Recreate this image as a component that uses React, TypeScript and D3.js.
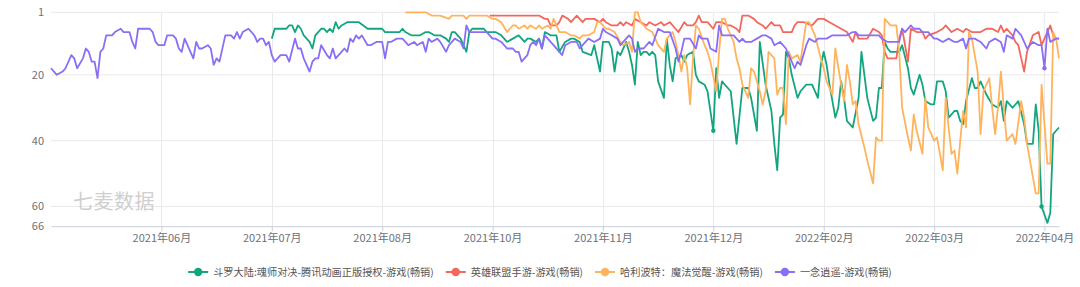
import React, { useEffect, useRef } from "react";
import * as d3 from "d3";

const WIDTH = 1080;
const HEIGHT = 287;

const tickIndex = [38, 76, 114, 152, 190, 228, 266, 304, 342];
const tickLabels = ["2021年06月", "2021年07月", "2021年08月", "2021年10月", "2021年11月", "2021年12月", "2022年02月", "2022年03月", "2022年04月"];
const yTicks = [1, 20, 40, 60, 66];
const lastIndex = 347;

const seriesNames = [
  "斗罗大陆:魂师对决-腾讯动画正版授权-游戏(畅销)",
  "英雄联盟手游-游戏(畅销)",
  "哈利波特：魔法觉醒-游戏(畅销)",
  "一念逍遥-游戏(畅销)",
];
const seriesColors = ["#12a57f", "#f2685c", "#ffb35c", "#8a6ef5"];

const douluo: [number, number][] = [
  [76,9],[77,6],[78,6],[81,6],[82,5],[83,5],[84,7],[85,5],[86,6],[87,8],[89,10],[90,12],[91,8],[93,6],[94,6],[95,7],[96,6],[97,7],[98,4],[99,6],[100,5],[102,4],[106,4],[109,6],[114,6],[115,7],[117,7],[120,7],[121,6],[122,7],[124,8],[127,8],[129,7],[130,7],[132,8],[134,8],[136,9],[137,10],[138,7],[139,7],[141,9],[142,11],[143,13],[144,7],[145,6],[149,6],[150,7],[152,7],[153,7],[155,8],[157,10],[159,9],[161,8],[163,10],[164,9],[165,9],[167,10],[168,9],[169,12],[170,7],[172,8],[174,8],[175,13],[177,10],[179,9],[180,9],[182,10],[183,13],[186,14],[187,11],[189,19],[190,10],[192,10],[193,12],[194,19],[195,13],[196,14],[198,10],[199,13],[200,17],[201,23],[202,10],[203,14],[204,13],[205,13],[206,14],[207,13],[208,14],[209,22],[211,27],[212,9],[213,17],[214,22],[215,15],[217,14],[218,16],[219,14],[221,13],[222,20],[223,22],[225,23],[226,25],[228,37],[229,18],[230,27],[231,22],[233,24],[234,25],[236,41],[238,24],[240,24],[241,27],[243,37],[244,10],[246,23],[248,31],[249,41],[250,49],[251,33],[252,32],[253,13],[254,15],[255,20],[257,27],[258,25],[260,23],[262,23],[264,27],[265,17],[266,13],[267,17],[268,23],[270,33],[271,30],[272,22],[273,27],[274,34],[276,36],[278,27],[279,13],[280,20],[281,27],[283,34],[284,33],[285,24],[286,24],[287,10],[288,12],[289,13],[292,13],[293,11],[295,18],[296,24],[297,26],[299,20],[300,23],[301,28],[303,29],[304,29],[305,22],[307,22],[308,25],[309,33],[311,31],[312,31],[313,34],[314,35],[315,28],[317,21],[318,24],[319,24],[320,22],[322,26],[324,29],[326,30],[327,28],[328,34],[329,28],[331,30],[333,28],[335,35],[336,41],[338,41],[339,29],[340,37],[341,60],[343,65],[344,62],[345,38],[346,37],[347,36],
];

const lol: [number, number][] = [
  [151,2],[153,2],[155,2],[157,2],[159,2],[168,2],[170,3],[171,3],[172,5],[174,5],[175,4],[176,2],[178,3],[179,4],[181,2],[183,4],[184,3],[186,3],[187,3],[189,4],[190,3],[191,4],[193,5],[195,5],[196,4],[197,5],[198,4],[200,5],[201,3],[203,4],[205,5],[206,4],[208,5],[210,4],[211,5],[213,4],[215,6],[216,7],[218,4],[219,5],[221,5],[222,4],[223,2],[224,4],[226,4],[228,6],[229,4],[231,4],[233,5],[234,5],[236,6],[237,7],[238,2],[240,2],[242,3],[243,4],[245,5],[246,6],[248,4],[249,5],[251,5],[252,7],[254,7],[255,7],[256,5],[257,4],[259,4],[262,5],[264,3],[266,3],[268,4],[270,5],[272,6],[274,7],[276,10],[277,7],[278,9],[281,9],[283,6],[285,7],[286,8],[287,13],[288,15],[291,15],[292,9],[293,6],[295,16],[296,6],[298,7],[300,7],[301,9],[302,8],[305,7],[307,6],[308,5],[310,7],[312,6],[314,7],[315,6],[317,7],[319,7],[320,7],[322,6],[324,6],[326,7],[327,5],[328,7],[329,6],[331,8],[332,10],[333,11],[334,15],[335,19],[336,13],[338,8],[340,7],[341,11],[343,7],[344,5],[345,8],[346,9],[347,9],
];

const harry: [number, number][] = [
  [122,1],[129,1],[131,2],[134,2],[137,3],[138,2],[139,2],[142,2],[143,3],[144,2],[149,2],[150,2],[152,3],[153,3],[155,4],[157,7],[158,6],[159,5],[160,5],[161,6],[163,5],[164,6],[165,5],[167,6],[168,5],[169,6],[171,5],[172,6],[173,3],[174,5],[175,7],[177,7],[179,8],[180,8],[182,9],[183,8],[185,8],[187,7],[188,4],[189,4],[191,6],[192,6],[194,7],[196,10],[197,11],[199,10],[200,13],[201,1],[202,1],[203,4],[205,6],[207,7],[208,9],[209,11],[211,13],[212,9],[214,7],[215,10],[216,14],[217,19],[218,14],[219,18],[220,29],[221,15],[222,5],[223,6],[225,11],[226,13],[227,16],[229,25],[230,13],[231,3],[232,3],[233,6],[235,10],[236,15],[237,18],[238,23],[240,27],[241,18],[242,19],[244,25],[245,29],[246,25],[247,13],[249,15],[250,26],[251,24],[252,24],[253,35],[254,13],[255,15],[257,14],[258,16],[260,4],[261,4],[263,8],[265,15],[266,18],[267,22],[269,26],[270,12],[272,23],[273,28],[274,17],[275,22],[276,29],[277,28],[278,35],[280,42],[281,46],[283,53],[284,39],[285,40],[286,40],[287,3],[288,4],[289,5],[291,5],[292,13],[293,30],[295,39],[296,43],[297,32],[298,37],[300,44],[301,27],[302,36],[304,40],[305,39],[307,49],[308,27],[309,36],[310,44],[311,43],[312,50],[313,40],[314,31],[315,36],[316,7],[317,9],[319,19],[320,38],[321,25],[323,21],[324,30],[325,38],[326,30],[327,19],[328,30],[329,40],[331,38],[332,41],[334,28],[335,33],[336,41],[337,46],[338,51],[339,56],[340,56],[341,23],[343,47],[344,47],[345,7],[346,9],[347,15],
];

const yinian: [number, number][] = [
  [0,18],[2,20],[4,19],[5,18],[7,14],[8,15],[9,18],[11,15],[12,12],[13,13],[14,16],[15,16],[16,21],[17,13],[18,12],[19,8],[21,8],[22,7],[24,6],[25,7],[27,7],[28,10],[29,12],[30,6],[31,6],[34,6],[35,7],[36,10],[37,11],[39,11],[40,8],[42,8],[43,9],[44,12],[45,13],[46,9],[48,13],[49,15],[50,10],[51,12],[52,12],[54,11],[55,12],[56,17],[57,15],[58,16],[60,8],[61,8],[62,8],[63,9],[64,7],[65,9],[66,7],[68,6],[70,8],[71,10],[72,9],[73,9],[74,11],[75,10],[76,14],[77,16],[79,14],[81,14],[82,16],[84,9],[85,12],[86,12],[87,15],[89,19],[90,16],[91,15],[92,15],[93,11],[95,14],[96,15],[97,12],[98,15],[100,13],[101,12],[102,13],[103,9],[104,10],[105,8],[106,9],[107,8],[109,11],[110,11],[112,10],[114,10],[115,15],[116,10],[117,10],[119,9],[121,9],[122,10],[123,11],[125,10],[126,11],[128,10],[129,13],[130,9],[131,10],[133,9],[134,10],[136,13],[137,11],[139,9],[141,10],[142,12],[143,5],[144,7],[146,7],[150,7],[152,9],[153,9],[155,10],[157,12],[159,12],[160,13],[161,13],[162,16],[164,14],[165,11],[166,10],[167,11],[168,9],[169,12],[170,8],[172,10],[173,11],[175,13],[176,14],[177,11],[179,10],[181,10],[182,12],[183,11],[185,9],[187,10],[189,9],[190,6],[191,7],[193,8],[195,9],[196,11],[198,9],[199,8],[200,9],[201,13],[202,12],[204,12],[206,10],[207,11],[209,6],[211,7],[213,7],[215,12],[216,16],[217,13],[218,9],[220,9],[222,12],[223,8],[224,9],[226,9],[227,12],[229,13],[230,5],[231,8],[233,8],[235,8],[237,10],[238,9],[239,10],[241,10],[243,9],[245,8],[246,8],[248,9],[249,11],[251,10],[253,12],[254,14],[255,16],[256,18],[257,16],[258,17],[260,11],[261,9],[263,10],[264,9],[265,9],[267,9],[269,8],[270,8],[272,8],[274,8],[276,7],[277,7],[278,8],[281,8],[283,8],[285,8],[286,9],[288,10],[290,10],[292,10],[293,6],[294,7],[296,5],[297,6],[299,6],[300,7],[302,7],[304,9],[305,9],[307,10],[309,9],[311,10],[312,10],[314,9],[315,12],[316,9],[318,9],[320,10],[322,12],[323,10],[325,9],[327,10],[328,13],[329,8],[331,9],[332,6],[334,8],[335,10],[336,12],[338,10],[340,11],[341,11],[342,18],[343,6],[344,10],[346,9],[347,9],
];

const seriesData = [douluo, lol, harry, yinian];
// highlighted points: [series index, category index]
const markedPoints: [number, number][] = [[0, 228], [0, 341], [3, 342]];

const FONT = "'Noto Sans CJK SC', 'Noto Sans', sans-serif";

export default function App() {
  const ref = useRef<SVGSVGElement>(null);

  useEffect(() => {
    const svg = d3.select(ref.current);
    svg.selectAll("*").remove();

    const left = 51, right = 1059, top = 12.3, bottom = 226.2;
    const x = d3.scaleLinear().domain([0, lastIndex]).range([left, right]);
    const y = d3.scaleLinear().domain([1, 66]).range([top, bottom]);

    // grid
    const grid = svg.append("g");
    grid.selectAll("line.h").data(yTicks.filter((t) => t !== 66)).join("line")
      .attr("x1", left).attr("x2", right)
      .attr("y1", (d) => y(d)).attr("y2", (d) => y(d))
      .attr("stroke", "#e9e9ee").attr("stroke-width", 1);
    grid.selectAll("line.v").data(tickIndex).join("line")
      .attr("x1", (d) => Math.round(x(d)) + 0.5).attr("x2", (d) => Math.round(x(d)) + 0.5)
      .attr("y1", top).attr("y2", bottom)
      .attr("stroke", "#e9e9ee").attr("stroke-width", 1);

    // y axis labels
    const yAxis = svg.append("g").attr("transform", `translate(${left},0)`)
      .call(d3.axisLeft(y).tickValues(yTicks).tickSize(0).tickPadding(7).tickFormat((d) => String(d)));
    yAxis.select(".domain").remove();
    yAxis.selectAll("text").attr("fill", "#6e7079").attr("font-size", 11).attr("font-family", FONT);

    // watermark
    svg.append("text").attr("x", 73).attr("y", 209).text("七麦数据")
      .attr("font-family", FONT).attr("font-size", 20).attr("fill", "#cfcfcf").attr("letter-spacing", 0.5);

    // x axis
    const xAxis = svg.append("g").attr("transform", `translate(0,${bottom})`)
      .call(d3.axisBottom(x).tickValues(tickIndex).tickFormat((_, i) => tickLabels[i]).tickSizeInner(5).tickSizeOuter(0).tickPadding(3));
    xAxis.select(".domain").attr("stroke", "#c9cedb");
    xAxis.selectAll(".tick line").attr("stroke", "#c9cedb");
    xAxis.selectAll("text").attr("fill", "#6e7079").attr("font-size", 11).attr("font-family", FONT);

    // lines
    const line = d3.line<[number, number]>().x((d) => x(d[0])).y((d) => y(d[1]));
    seriesData.forEach((data, i) => {
      svg.append("path").datum(data).attr("d", line)
        .attr("fill", "none").attr("stroke", seriesColors[i]).attr("stroke-width", 1.8)
        .attr("stroke-linejoin", "round");
    });
    markedPoints.forEach(([s, idx]) => {
      const p = seriesData[s].find((d) => d[0] === idx);
      if (!p) return;
      svg.append("circle").attr("cx", x(p[0])).attr("cy", y(p[1])).attr("r", 2.2).attr("fill", seriesColors[s]);
    });

    // legend
    const legendY = 272;
    const markerW = 20, gapText = 5, itemGap = 12;
    const lg = svg.append("g");
    const widths: number[] = [];
    const items = seriesNames.map((name, i) => {
      const g = lg.append("g");
      g.append("line").attr("x1", 0).attr("x2", markerW).attr("y1", 0).attr("y2", 0)
        .attr("stroke", seriesColors[i]).attr("stroke-width", 2);
      g.append("circle").attr("cx", markerW / 2).attr("cy", 0).attr("r", 4.2).attr("fill", seriesColors[i]);
      const t = g.append("text").attr("x", markerW + gapText).attr("y", 0).attr("dy", "0.35em")
        .text(name).attr("font-family", FONT).attr("font-size", 10.2).attr("fill", "#555");
      const w = (t.node() as SVGTextElement).getComputedTextLength();
      widths.push(markerW + gapText + w);
      return g;
    });
    const total = d3.sum(widths) + itemGap * (widths.length - 1);
    let cx = WIDTH / 2 - total / 2;
    items.forEach((g, i) => {
      g.attr("transform", `translate(${cx},${legendY})`);
      cx += widths[i] + itemGap;
    });
  }, []);

  return (
    <svg ref={ref} width={WIDTH} height={HEIGHT}
      style={{ position: "absolute", left: 0, top: 0, background: "#fff" }} />
  );
}
